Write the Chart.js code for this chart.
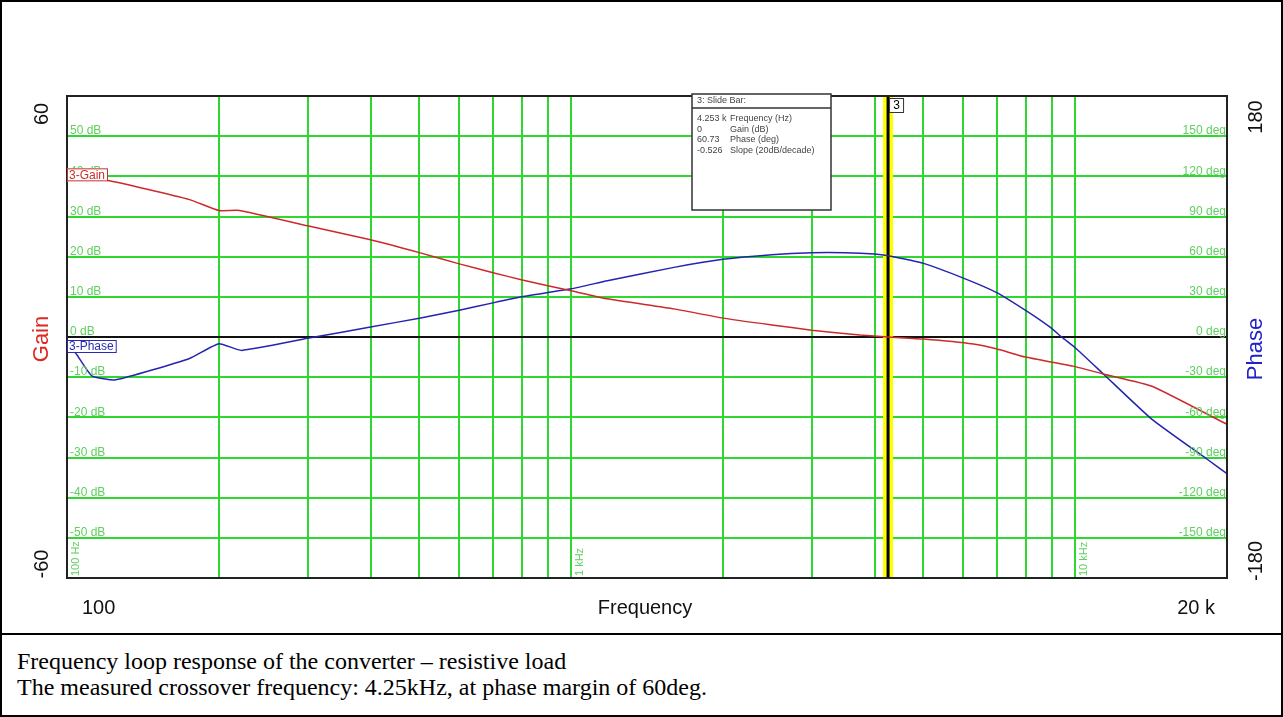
<!doctype html>
<html>
<head>
<meta charset="utf-8">
<title>Frequency loop response</title>
<script src="https://cdn.jsdelivr.net/npm/chart.js@4/dist/chart.umd.min.js"></script>
<style>
body { margin:0; background:#fff; }
#frame { position:relative; width:1279px; height:713px; border:2px solid #000; }
#plot { position:absolute; left:0; top:0; }
#caption { position:absolute; left:0; top:631px; width:1279px; height:82px; border-top:2px solid #000;
  font-family:"Liberation Serif","Times New Roman",serif; font-size:24px; line-height:26px; color:#000; padding:13px 0 0 15px; box-sizing:border-box; }
</style>
</head>
<body>
<div id="frame">
  <canvas id="plot" width="1279" height="631"></canvas>
  <div id="caption">Frequency loop response of the converter – resistive load<br>The measured crossover frequency: 4.25kHz, at phase margin of 60deg.</div>
</div>
<script>
// measured loop gain (dB) and phase (deg) vs frequency (Hz)
var gainFreq = [100,120,175,200,220,300,400,500,600,700,800,1000,1180,1600,2000,2500,3000,3740,4253,5000,6280,7000,7960,9900,11400,14200,20000];
var gainDb   = [39.5,39,34.2,31.5,31.5,27.7,24.2,21,18.2,16,14.2,11.5,9.5,7,4.7,3,1.7,0.5,0,-0.5,-1.75,-3,-5,-7.25,-9.25,-12.25,-21.75];
var phaseFreq = [100,104,112,125,175,200,222,300,400,500,600,700,800,1000,1180,1600,2000,2500,3000,3500,4000,4253,5000,6000,7000,8000,8900,9450,10000,11400,14200,18300,20000];
var phaseDeg  = [-6,-12,-29,-32,-16,-5,-10,-1,7.5,14,20,25.5,30,36,42,52,58,61.5,63,63,62,60.7,55,44,33,19.5,7.5,-0.75,-8,-28,-61.5,-91.5,-102];

var freqTicks = [100,200,300,400,500,600,700,800,900,1000,2000,3000,4000,5000,6000,7000,8000,9000,10000,20000];
var gainTicks = [-50,-40,-30,-20,-10,0,10,20,30,40,50];
var phaseTicks = [-150,-120,-90,-60,-30,0,30,60,90,120,150];
var decadeLabels = [[100,'100 Hz'],[1000,'1 kHz'],[10000,'10 kHz']];

var cursorFreq = 4253;
var slideVals = ['4.253 k','0','60.73','-0.526'];
var slideNames = ['Frequency (Hz)','Gain (dB)','Phase (deg)','Slope (20dB/decade)'];

var GREEN = '#2ed82e';
var LBL = '#5fcf5f';

function pts(xs, ys) {
  return xs.map(function(x, i) { return {x: x, y: ys[i]}; });
}

var bode = {
  id: 'bode',
  beforeDatasetsDraw: function(chart) {
    var c = chart.ctx, a = chart.chartArea, px = chart.scales.x.getPixelForValue(cursorFreq);
    c.save();
    c.fillStyle = '#ffff00';
    c.fillRect(px - 5, a.top, 10, a.bottom - a.top);
    c.fillStyle = '#000';
    c.fillRect(px - 1.5, a.top, 3, a.bottom - a.top);
    c.restore();
  },
  afterDraw: function(chart) {
    var c = chart.ctx, a = chart.chartArea;
    var sx = chart.scales.x, sy = chart.scales.y, sp = chart.scales.y2;
    c.save();
    // frame
    c.strokeStyle = '#222';
    c.lineWidth = 2;
    c.strokeRect(a.left, a.top, a.right - a.left, a.bottom - a.top);

    // inner grid labels
    c.font = '12px "Liberation Sans", Arial';
    c.fillStyle = LBL;
    c.textBaseline = 'bottom';
    c.textAlign = 'left';
    gainTicks.forEach(function(v) {
      c.fillText(v + ' dB', a.left + 3, sy.getPixelForValue(v) + 1);
    });
    c.textAlign = 'right';
    phaseTicks.forEach(function(v) {
      c.fillText(v + ' deg', a.right - 1, sp.getPixelForValue(v) + 1);
    });
    c.font = '11px "Liberation Sans", Arial';
    decadeLabels.forEach(function(d) {
      c.save();
      c.translate(sx.getPixelForValue(d[0]) + 3, a.bottom - 2);
      c.rotate(-Math.PI / 2);
      c.textAlign = 'left';
      c.textBaseline = 'top';
      c.fillText(d[1], 0, 0);
      c.restore();
    });

    // trace tags
    function tag(txt, y, col) {
      c.font = '12px "Liberation Sans", Arial';
      var w = c.measureText(txt).width + 4;
      c.fillStyle = '#fff';
      c.fillRect(a.left, y - 6, w, 13);
      c.strokeStyle = col;
      c.lineWidth = 1;
      c.strokeRect(a.left + 0.5, y - 6 + 0.5, w, 12);
      c.fillStyle = col;
      c.textAlign = 'left';
      c.textBaseline = 'middle';
      c.fillText(txt, a.left + 2, y + 1);
    }
    tag('3-Gain', sy.getPixelForValue(gainDb[0]) - 4, '#c8322e');
    tag('3-Phase', sp.getPixelForValue(0) + 9, '#2a2ab4');

    // cursor marker
    var px = sx.getPixelForValue(cursorFreq);
    c.fillStyle = '#fff';
    c.fillRect(px + 1, a.top + 2, 14, 14);
    c.strokeStyle = '#333';
    c.lineWidth = 1;
    c.strokeRect(px + 1.5, a.top + 2.5, 14, 14);
    c.fillStyle = '#000';
    c.font = '12px "Liberation Sans", Arial';
    c.textAlign = 'center';
    c.textBaseline = 'middle';
    c.fillText('3', px + 8.5, a.top + 10);

    // slide bar box
    var bx = 690, by = 92, bw = 139, bh = 116;
    c.fillStyle = '#fff';
    c.fillRect(bx, by, bw, bh);
    c.strokeStyle = '#333';
    c.lineWidth = 1.5;
    c.strokeRect(bx, by, bw, bh);
    c.beginPath();
    c.moveTo(bx, by + 14);
    c.lineTo(bx + bw, by + 14);
    c.stroke();
    c.fillStyle = '#444';
    c.font = '9px "Liberation Sans", Arial';
    c.textAlign = 'left';
    c.textBaseline = 'middle';
    c.fillText('3: Slide Bar:', bx + 5, by + 7);
    slideVals.forEach(function(v, i) {
      c.fillText(v, bx + 5, by + 25 + i * 10.5);
      c.fillText(slideNames[i], bx + 38, by + 25 + i * 10.5);
    });

    // outer axis labels
    function rot(txt, x, y, font, col) {
      c.save();
      c.translate(x, y);
      c.rotate(-Math.PI / 2);
      c.font = font;
      c.fillStyle = col;
      c.textAlign = 'center';
      c.textBaseline = 'middle';
      c.fillText(txt, 0, 0);
      c.restore();
    }
    var big = '20px "Liberation Sans", Arial';
    rot('60', 40, a.top + 18, big, '#111');
    rot('-60', 40, a.bottom - 14, big, '#111');
    rot('Gain', 40, sy.getPixelForValue(0) + 2, '22px "Liberation Sans", Arial', '#dd2a22');
    rot('180', a.right + 29, a.top + 21, big, '#111');
    rot('-180', a.right + 29, a.bottom - 17, big, '#111');
    rot('Phase', a.right + 29, sy.getPixelForValue(-3), '22px "Liberation Sans", Arial', '#2222cc');
    c.font = big;
    c.fillStyle = '#111';
    c.textBaseline = 'middle';
    c.textAlign = 'left';
    c.fillText('100', a.left + 15, a.bottom + 30);
    c.textAlign = 'center';
    c.fillText('Frequency', (a.left + a.right) / 2 - 2, a.bottom + 30);
    c.textAlign = 'right';
    c.fillText('20 k', a.right - 12, a.bottom + 30);
    c.restore();
  }
};

var ctx = document.getElementById('plot').getContext('2d');
new Chart(ctx, {
  type: 'line',
  data: {
    datasets: [{
      label: '3-Gain',
      data: pts(gainFreq, gainDb),
      yAxisID: 'y',
      borderColor: '#cc2a2a',
      borderWidth: 1.5,
      pointRadius: 0,
      tension: 0.15,
      fill: false
    }, {
      label: '3-Phase',
      data: pts(phaseFreq, phaseDeg),
      yAxisID: 'y2',
      borderColor: '#2424b0',
      borderWidth: 1.5,
      pointRadius: 0,
      tension: 0.15,
      fill: false
    }]
  },
  options: {
    responsive: false,
    animation: false,
    layout: { padding: { left: 65, right: 54, top: 94, bottom: 55 } },
    plugins: { legend: { display: false }, tooltip: { enabled: false } },
    scales: {
      x: {
        type: 'logarithmic',
        min: 100,
        max: 20000,
        afterBuildTicks: function(s) { s.ticks = freqTicks.map(function(v) { return {value: v}; }); },
        ticks: { display: false },
        border: { display: false },
        grid: { color: GREEN, lineWidth: 2, drawTicks: false }
      },
      y: {
        min: -60,
        max: 60,
        ticks: { display: false, stepSize: 10 },
        border: { display: false },
        grid: {
          drawTicks: false,
          lineWidth: 2,
          color: function(c) { return c.tick.value === 0 ? '#111' : GREEN; }
        }
      },
      y2: {
        position: 'right',
        min: -180,
        max: 180,
        display: false
      }
    }
  },
  plugins: [bode]
});
</script>
</body>
</html>
